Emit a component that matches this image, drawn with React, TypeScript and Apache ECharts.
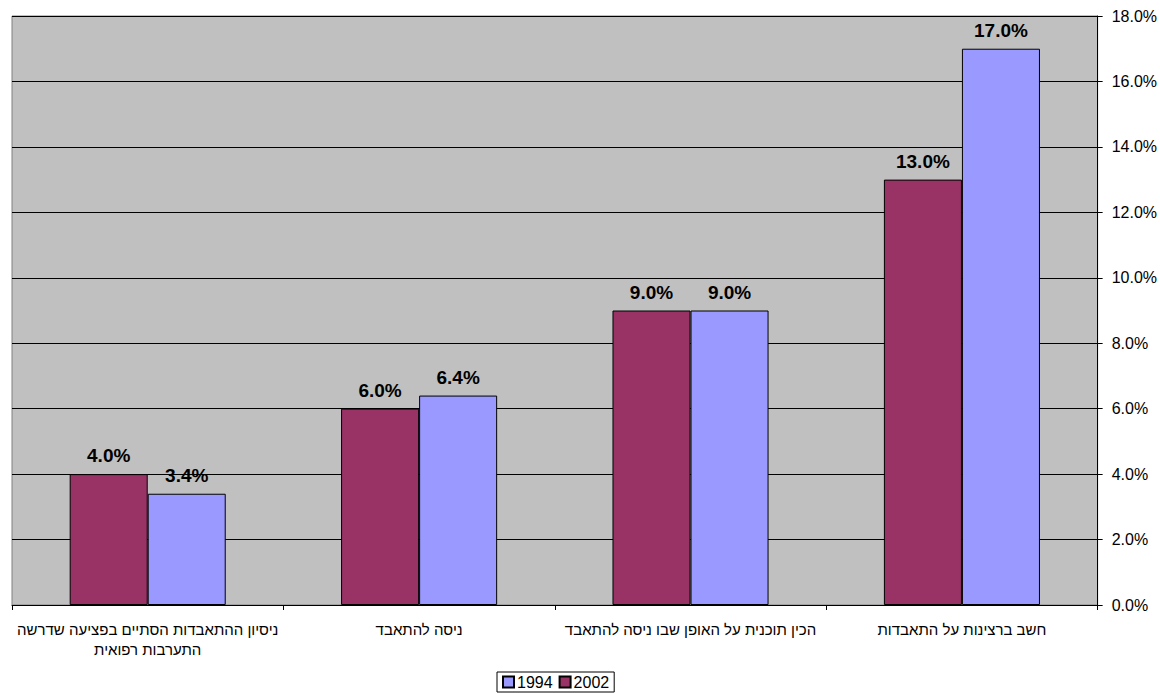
import React, { useEffect, useRef } from "react";
import * as echarts from "echarts";

const categories = [
  "ניסיון ההתאבדות הסתיים בפציעה שדרשה\nהתערבות רפואית",
  "ניסה להתאבד",
  "הכין תוכנית על האופן שבו ניסה להתאבד",
  "חשב ברצינות על התאבדות",
];
const values2002 = [4.0, 6.0, 9.0, 13.0];
const values1994 = [3.4, 6.4, 9.0, 17.0];
const legendOrder = ["1994", "2002"];

const FONT = "Arial, 'Liberation Sans', sans-serif";

export default function App() {
  const ref = useRef<HTMLDivElement>(null);
  useEffect(() => {
    if (!ref.current) return;
    const chart = echarts.init(ref.current, null, { renderer: "svg" });
    const labelCfg = {
      show: true,
      position: "top",
      distance: 9,
      formatter: (p: any) => Number(p.value).toFixed(1) + "%",
      fontFamily: FONT,
      fontSize: 19,
      fontWeight: "bold",
      color: "#000",
    };
    chart.setOption({
      animation: false,
      backgroundColor: "#fff",
      textStyle: { fontFamily: FONT },
      grid: {
        left: 12,
        right: 62,
        top: 16,
        bottom: 88,
        show: true,
        backgroundColor: "#C0C0C0",
        borderColor: "#808080",
        borderWidth: 1,
      },
      legend: {
        data: legendOrder,
        bottom: 1,
        left: 497,
        orient: "horizontal",
        itemWidth: 11,
        itemHeight: 11,
        itemGap: 6,
        padding: [2, 5, 2, 5],
        borderColor: "#000",
        borderWidth: 1,
        textStyle: { fontFamily: FONT, fontSize: 16, color: "#000", padding: [0, 0, 0, -2] },
        icon: "rect",
      },
      xAxis: {
        type: "category",
        data: categories,
        boundaryGap: true,
        axisLine: { show: true, lineStyle: { color: "#000", width: 1 } },
        axisTick: { show: true, length: 5, alignWithLabel: false, lineStyle: { color: "#000" } },
        axisLabel: {
          interval: 0,
          margin: 14,
          fontFamily: FONT,
          fontSize: 15,
          color: "#000",
          lineHeight: 20,
        },
      },
      yAxis: {
        type: "value",
        position: "right",
        min: 0,
        max: 18,
        interval: 2,
        axisLine: { show: true, lineStyle: { color: "#000", width: 1 } },
        axisTick: { show: true, length: 5, lineStyle: { color: "#000" } },
        axisLabel: {
          margin: 14,
          fontFamily: FONT,
          fontSize: 16,
          color: "#000",
          formatter: (v: number) => v.toFixed(1) + "%",
        },
        splitLine: { show: true, lineStyle: { color: "#000", width: 1 } },
      },
      series: [
        {
          name: "2002",
          type: "bar",
          data: values2002,
          barGap: "0%",
          barCategoryGap: "42.5%",
          itemStyle: { color: "#993366", borderColor: "#000", borderWidth: 1 },
          label: labelCfg,
        },
        {
          name: "1994",
          type: "bar",
          data: values1994,
          barGap: "0%",
          barCategoryGap: "42.5%",
          itemStyle: { color: "#9999FF", borderColor: "#000", borderWidth: 1 },
          label: labelCfg,
        },
      ],
    });
    return () => chart.dispose();
  }, []);
  return (
    <div
      ref={ref}
      style={{ position: "fixed", left: 0, top: 0, width: 1160, height: 693 }}
    />
  );
}
